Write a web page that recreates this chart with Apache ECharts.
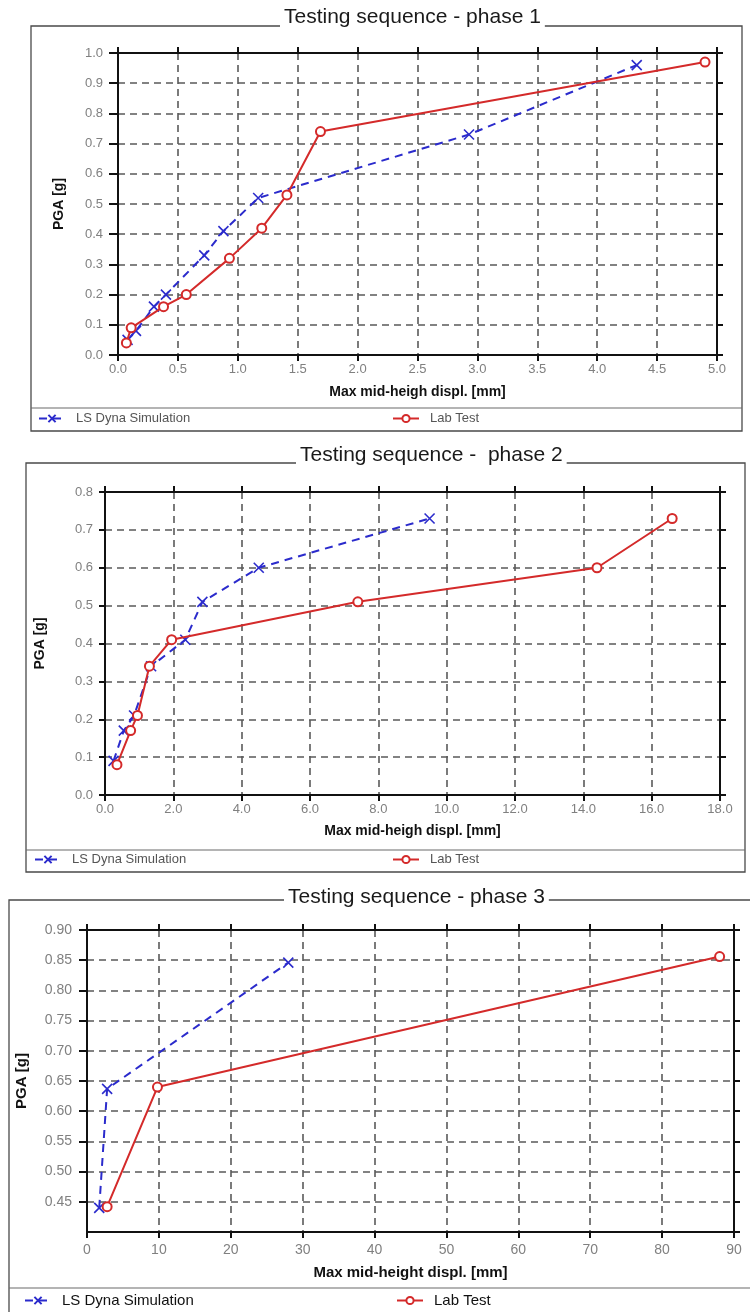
<!DOCTYPE html>
<html>
<head>
<meta charset="utf-8">
<style>
  html, body { margin: 0; padding: 0; background: #fff; }
  #chart { width: 750px; height: 1312px; }
</style>
<script src="https://cdn.jsdelivr.net/npm/echarts@6/dist/echarts.min.js"></script>
</head>
<body>
<div id="chart"></div>
<script>
// ---- data: max mid-height displacement [mm] vs PGA [g] ----
const seriesNames = ['LS Dyna Simulation', 'Lab Test'];
const panelTitles = ['Testing sequence - phase 1', 'Testing sequence -  phase 2', 'Testing sequence - phase 3'];
const xAxisTitles = ['Max mid-heigh displ. [mm]', 'Max mid-heigh displ. [mm]', 'Max mid-height displ. [mm]'];
const yAxisTitle = 'PGA [g]';

// phase 1
const p1SimX = [0.08, 0.15, 0.30, 0.40, 0.72, 0.88, 1.17, 2.93, 4.33];
const p1SimY = [0.05, 0.08, 0.16, 0.20, 0.33, 0.41, 0.52, 0.73, 0.96];
const p1LabX = [0.07, 0.11, 0.38, 0.57, 0.93, 1.20, 1.41, 1.69, 4.90];
const p1LabY = [0.04, 0.09, 0.16, 0.20, 0.32, 0.42, 0.53, 0.74, 0.97];

// phase 2
const p2SimX = [0.25, 0.55, 0.85, 1.35, 2.35, 2.85, 4.5, 9.5];
const p2SimY = [0.09, 0.17, 0.21, 0.34, 0.41, 0.51, 0.60, 0.73];
const p2LabX = [0.35, 0.75, 0.95, 1.30, 1.95, 7.4, 14.4, 16.6];
const p2LabY = [0.08, 0.17, 0.21, 0.34, 0.41, 0.51, 0.60, 0.73];

// phase 3
const p3SimX = [1.7, 2.8, 28.0];
const p3SimY = [0.44, 0.637, 0.846];
const p3LabX = [2.8, 9.8, 88.0];
const p3LabY = [0.442, 0.640, 0.856];

// axis ranges and tick steps
const xMin = [0, 0, 0], xMax = [5, 18, 90], xStep = [0.5, 2, 10];
const yMin = [0, 0, 0.40], yMax = [1.0, 0.8, 0.90], yStep = [0.1, 0.1, 0.05];
const xDecimals = [1, 1, 0], yDecimals = [1, 1, 2];

const zip = (xs, ys) => xs.map((x, i) => [x, ys[i]]);
const simData = [zip(p1SimX, p1SimY), zip(p2SimX, p2SimY), zip(p3SimX, p3SimY)];
const labData = [zip(p1LabX, p1LabY), zip(p2LabX, p2LabY), zip(p3LabX, p3LabY)];

// ---- layout ----
const FONT = '"Liberation Sans Narrow", "Liberation Sans", Arial, sans-serif';
const BLUE = '#2b2bcc';
const RED = '#d42a2a';
const grids = [
  { left: 118, top: 53, width: 599, height: 302 },
  { left: 105, top: 492, width: 615, height: 303 },
  { left: 87, top: 930, width: 647, height: 302 }
];
const frames = [
  { x: 31, y: 26, w: 711, h: 405, sep: 408 },
  { x: 26, y: 463, w: 719, h: 409, sep: 850 },
  { x: 9, y: 900, w: 760, h: 460, sep: 1288 }
];
const titlePos = [
  { left: 280, top: 5 },
  { left: 296, top: 443 },
  { left: 284, top: 885 }
];
const legendRows = [
  { y: 420, x1: 38, x2: 392, size: 13, color: '#555' },
  { y: 861, x1: 34, x2: 392, size: 13, color: '#555' },
  { y: 1301, x1: 24, x2: 396, size: 15, color: '#111' }
];
const yNameGap = [52, 58, 58];
const xNameGap = [30, 29, 33];
const labelSize = [13, 13, 14];
const axisNameSize = [14, 14, 15];
const yTickLen = [9, 6, 8];
const yLabelMargin = [15, 12, 15];
const xLabelMargin = [8, 8, 11];

const gridDash = { color: '#5a5a5a', width: 1.6, type: [7, 5] };
const frameLine = { color: '#111', width: 2 };

const option = {
  animation: false,
  backgroundColor: '#fff',
  title: panelTitles.map((t, i) => ({
    text: t,
    left: titlePos[i].left,
    top: titlePos[i].top,
    padding: [2, 4, 2, 4],
    backgroundColor: '#fff',
    textStyle: { fontFamily: FONT, fontSize: 21, fontWeight: 'normal', color: '#1a1a1a' }
  })),
  grid: grids.map(g => Object.assign({ containLabel: false }, g)),
  xAxis: [],
  yAxis: [],
  legend: [],
  series: [],
  graphic: []
};

for (let i = 0; i < 3; i++) {
  const xFmt = v => v.toFixed(xDecimals[i]);
  const yFmt = v => v.toFixed(yDecimals[i]);
  // bottom x axis with labels and grid
  option.xAxis.push({
    type: 'value', gridIndex: i, position: 'bottom',
    min: xMin[i], max: xMax[i], interval: xStep[i],
    name: xAxisTitles[i], nameLocation: 'middle', nameGap: xNameGap[i],
    nameTextStyle: { fontFamily: FONT, fontSize: axisNameSize[i], fontWeight: 'bold', color: '#111' },
    axisLine: { onZero: false, lineStyle: frameLine },
    axisTick: { length: 6, lineStyle: { color: '#111', width: 2 } },
    axisLabel: { formatter: xFmt, fontFamily: FONT, fontSize: labelSize[i], color: '#808080', margin: xLabelMargin[i] },
    splitLine: { show: true, lineStyle: gridDash }
  });
  // top x axis: frame line and ticks only
  option.xAxis.push({
    type: 'value', gridIndex: i, position: 'top',
    min: xMin[i], max: xMax[i], interval: xStep[i],
    axisLine: { onZero: false, lineStyle: frameLine },
    axisTick: { length: 6, lineStyle: { color: '#111', width: 2 } },
    axisLabel: { show: false },
    splitLine: { show: false }
  });
  // left y axis with labels and grid
  option.yAxis.push({
    type: 'value', gridIndex: i, position: 'left',
    min: yMin[i], max: yMax[i], interval: yStep[i],
    name: yAxisTitle, nameLocation: 'middle', nameGap: yNameGap[i], nameRotate: 90,
    nameTextStyle: { fontFamily: FONT, fontSize: axisNameSize[i], fontWeight: 'bold', color: '#111' },
    axisLine: { onZero: false, lineStyle: frameLine },
    axisTick: { length: yTickLen[i], lineStyle: { color: '#111', width: 2 } },
    axisLabel: { formatter: yFmt, showMinLabel: i !== 2, fontFamily: FONT, fontSize: labelSize[i], color: '#808080', margin: yLabelMargin[i] },
    splitLine: { show: true, lineStyle: gridDash }
  });
  // right y axis: frame line and ticks only
  option.yAxis.push({
    type: 'value', gridIndex: i, position: 'right',
    min: yMin[i], max: yMax[i], interval: yStep[i],
    axisLine: { onZero: false, lineStyle: frameLine },
    axisTick: { length: 6, lineStyle: { color: '#111', width: 2 } },
    axisLabel: { show: false },
    splitLine: { show: false }
  });

  option.series.push({
    name: seriesNames[0], type: 'line',
    xAxisIndex: 2 * i, yAxisIndex: 2 * i,
    data: simData[i],
    symbol: 'path://M0,0L10,10M10,0L0,10',
    symbolSize: 10,
    itemStyle: { color: BLUE, borderColor: BLUE, borderWidth: 1.6 },
    lineStyle: { color: BLUE, width: 2, type: [8, 6] },
    z: 3
  });
  option.series.push({
    name: seriesNames[1], type: 'line',
    xAxisIndex: 2 * i, yAxisIndex: 2 * i,
    data: labData[i],
    symbol: 'emptyCircle',
    symbolSize: 9,
    itemStyle: { color: RED, borderColor: RED, borderWidth: 1.6 },
    lineStyle: { color: RED, width: 2 },
    z: 4
  });

  // legend row at the foot of each panel
  const lr = legendRows[i];
  [lr.x1, lr.x2].forEach((lx, k) => {
    option.legend.push({
      data: [seriesNames[k]],
      left: lx, top: lr.y - 8,
      padding: 0,
      itemWidth: 26, itemHeight: 9, itemGap: 8,
      selectedMode: false,
      textStyle: { fontFamily: FONT, fontSize: lr.size, color: lr.color, padding: [0, 0, 0, 6] }
    });
  });

  // panel frame and legend separator
  const f = frames[i];
  option.graphic.push({
    type: 'rect', z: 0, silent: true,
    shape: { x: f.x, y: f.y, width: f.w, height: f.h },
    style: { fill: 'none', stroke: '#4a4a4a', lineWidth: 1.3 }
  });
  option.graphic.push({
    type: 'line', z: 0, silent: true,
    shape: { x1: f.x, y1: f.sep, x2: f.x + f.w, y2: f.sep },
    style: { stroke: '#6a6a6a', lineWidth: 1.2 }
  });
}

const chart = echarts.init(document.getElementById('chart'), null, { renderer: 'canvas' });
chart.setOption(option);
</script>
</body>
</html>
